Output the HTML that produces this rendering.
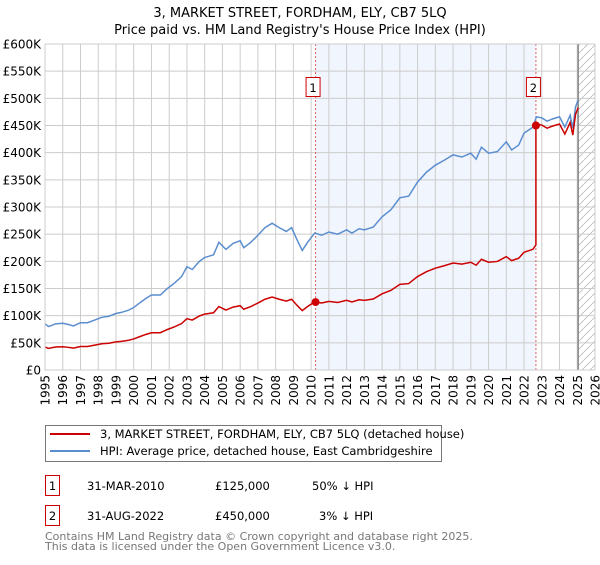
<!DOCTYPE html>
<html><head><meta charset="utf-8"><style>
body{margin:0;background:#fff;font-family:"Liberation Sans","DejaVu Sans",sans-serif}
svg text{font-family:"DejaVu Sans","Liberation Sans",sans-serif}
</style></head><body>
<svg id="chart" width="600" height="560" xmlns="http://www.w3.org/2000/svg">
<defs><pattern id="hatch" patternUnits="userSpaceOnUse" width="8" height="8"><path d="M0,8 L8,0" stroke="#bbb" stroke-width="0.8"/></pattern></defs>
<text x="300" y="17" text-anchor="middle" font-size="13">3, MARKET STREET, FORDHAM, ELY, CB7 5LQ</text>
<text x="300" y="34" text-anchor="middle" font-size="13">Price paid vs. HM Land Registry's House Price Index (HPI)</text>
<g id="plot"></g>
<rect x="45.5" y="425.5" width="396" height="36" fill="#fff" stroke="#777"/>
<line x1="50" y1="434" x2="90" y2="434" stroke="#cc0000" stroke-width="2"/>
<text x="100" y="438" font-size="11.5">3, MARKET STREET, FORDHAM, ELY, CB7 5LQ (detached house)</text>
<line x1="50" y1="451" x2="90" y2="451" stroke="#5b8ecf" stroke-width="2"/>
<text x="100" y="455" font-size="11.5">HPI: Average price, detached house, East Cambridgeshire</text>
<g font-size="11.5">
<rect x="45.5" y="475.5" width="14" height="20" fill="#fff" stroke="#cc0000"/>
<text x="52.5" y="490" text-anchor="middle">1</text>
<text x="87" y="490">31-MAR-2010</text><text x="215" y="490">£125,000</text><text x="312" y="490">50% ↓ HPI</text></g>
<g font-size="11.5">
<rect x="45.5" y="505.5" width="14" height="20" fill="#fff" stroke="#cc0000"/>
<text x="52.5" y="520" text-anchor="middle">2</text>
<text x="87" y="520">31-AUG-2022</text><text x="215" y="520">£450,000</text><text x="319" y="520">3% ↓ HPI</text></g>
<text x="45" y="540" font-size="11" fill="#777">Contains HM Land Registry data © Crown copyright and database right 2025.</text>
<text x="45" y="550" font-size="11" fill="#777">This data is licensed under the Open Government Licence v3.0.</text>
</svg>
<script>
const hpiDates=[1995,1995.2,1995.6,1996,1996.3,1996.6,1997,1997.4,1997.8,1998.2,1998.6,1999,1999.3,1999.7,2000,2000.4,2000.7,2001,2001.5,2001.9,2002.3,2002.7,2003,2003.3,2003.7,2004,2004.5,2004.8,2005.2,2005.6,2006,2006.2,2006.6,2007,2007.4,2007.8,2008.2,2008.6,2008.9,2009.2,2009.5,2009.8,2010.2,2010.6,2011,2011.5,2012,2012.3,2012.7,2013,2013.5,2014,2014.5,2015,2015.5,2016,2016.5,2017,2017.5,2018,2018.5,2019,2019.3,2019.6,2020,2020.5,2021,2021.3,2021.7,2022,2022.5,2022.7,2023,2023.3,2023.6,2024,2024.3,2024.6,2024.75,2024.9,2025.05];
const hpiValues=[85,80,85,86,84,81,87,87,92,97,99,104,106,110,115,125,132,138,138,150,160,172,190,185,200,207,212,235,222,233,238,225,235,248,262,270,262,255,262,240,220,235,252,248,254,250,258,252,260,258,263,282,295,317,320,346,364,377,386,396,392,399,388,410,399,402,420,405,414,436,447,466,464,458,462,466,447,469,445,484,497];
const saleDates=[2010.25,2022.67];
const salePrices=[125,450];
const yTicks=[0,50,100,150,200,250,300,350,400,450,500,550,600];
const yTickLabels=["£0","£50K","£100K","£150K","£200K","£250K","£300K","£350K","£400K","£450K","£500K","£550K","£600K"];
const xYears=[1995,1996,1997,1998,1999,2000,2001,2002,2003,2004,2005,2006,2007,2008,2009,2010,2011,2012,2013,2014,2015,2016,2017,2018,2019,2020,2021,2022,2023,2024,2025,2026];
const X0=45,X1=595,Y0=370,Y1=44;
const xs=t=>X0+(t-1995)/31*(X1-X0);
const ys=v=>Y0-v/600*(Y0-Y1);
const NS="http://www.w3.org/2000/svg";
const g=document.getElementById('plot');
function mk(tag,a){const e=document.createElementNS(NS,tag);for(const k in a)e.setAttribute(k,a[k]);g.appendChild(e);return e;}
function hpiAt(t){for(let i=1;i<hpiDates.length;i++){if(t<=hpiDates[i]){const f=(t-hpiDates[i-1])/(hpiDates[i]-hpiDates[i-1]);return hpiValues[i-1]+f*(hpiValues[i]-hpiValues[i-1]);}}return hpiValues[hpiValues.length-1];}
let e;
e=mk('rect',{x:X0,y:Y1,width:X1-X0,height:Y0-Y1,fill:'#fff'});


e=mk('rect',{x:xs(saleDates[0]),y:Y1,width:xs(saleDates[1])-xs(saleDates[0]),height:Y0-Y1,fill:'#eef3fc',opacity:0.8});


e=mk('rect',{x:xs(2025.05),y:Y1,width:X1-xs(2025.05),height:Y0-Y1,fill:'url(#hatch)'});


yTicks.forEach((v,i)=>{
 e=mk('line',{x1:X0,x2:X1,y1:ys(v),y2:ys(v),stroke:'#ccc','stroke-width':1});
 
 
 e=mk('text',{x:X0-4,y:ys(v)+4.5,'text-anchor':'end','font-size':12});
 e.textContent=yTickLabels[i];
 
 
});
xYears.forEach(yr=>{
 e=mk('line',{x1:xs(yr),x2:xs(yr),y1:Y1,y2:Y0,stroke:'#ccc','stroke-width':1});
 
 
 e=mk('text',{x:0,y:0,'text-anchor':'end','font-size':12,transform:`translate(${xs(yr)+4.5},${Y0+5}) rotate(-90)`});
 e.textContent=yr;
 
 
});
e=mk('line',{x1:xs(2025.05),x2:xs(2025.05),y1:Y1,y2:Y0,stroke:'#888','stroke-width':1.5});


saleDates.forEach((d,i)=>{
 e=mk('line',{x1:xs(d),x2:xs(d),y1:Y1,y2:Y0,stroke:'#e06060','stroke-width':1,'stroke-dasharray':'2,2'});
 
 
 e=mk('rect',{x:xs(d)-9.5,y:77.5,width:14,height:19,fill:'#fff',stroke:'#cc0000'});
 
 
 e=mk('text',{x:xs(d)-2.5,y:92,'text-anchor':'middle','font-size':11.5});
 e.textContent=String(i+1);
 
 
});
// HPI line
e=mk('polyline',{points:hpiDates.map((d,i)=>xs(d)+','+ys(hpiValues[i])).join(' '),fill:'none',stroke:'#5b8ecf','stroke-width':1.5});


// Property line: HPI scaled from each sale
const r1=salePrices[0]/hpiAt(saleDates[0]),r2=salePrices[1]/hpiAt(saleDates[1]);
let pts=[];
hpiDates.forEach((d,i)=>{if(d<saleDates[1])pts.push([d,hpiValues[i]*r1]);});
pts.push([saleDates[1],hpiAt(saleDates[1])*r1]);
pts.push([saleDates[1],salePrices[1]]);
hpiDates.forEach((d,i)=>{if(d>saleDates[1])pts.push([d,hpiValues[i]*r2]);});
e=mk('polyline',{points:pts.map(p=>xs(p[0])+','+ys(p[1])).join(' '),fill:'none',stroke:'#cc0000','stroke-width':1.5});


saleDates.forEach((d,i)=>{
 e=mk('circle',{cx:xs(d),cy:ys(salePrices[i]),r:4,fill:'#cc0000'});
 
 
});
e=mk('rect',{x:X0,y:Y1,width:X1-X0,height:Y0-Y1,fill:'none',stroke:'#ccc'});


</script>
</body></html>
